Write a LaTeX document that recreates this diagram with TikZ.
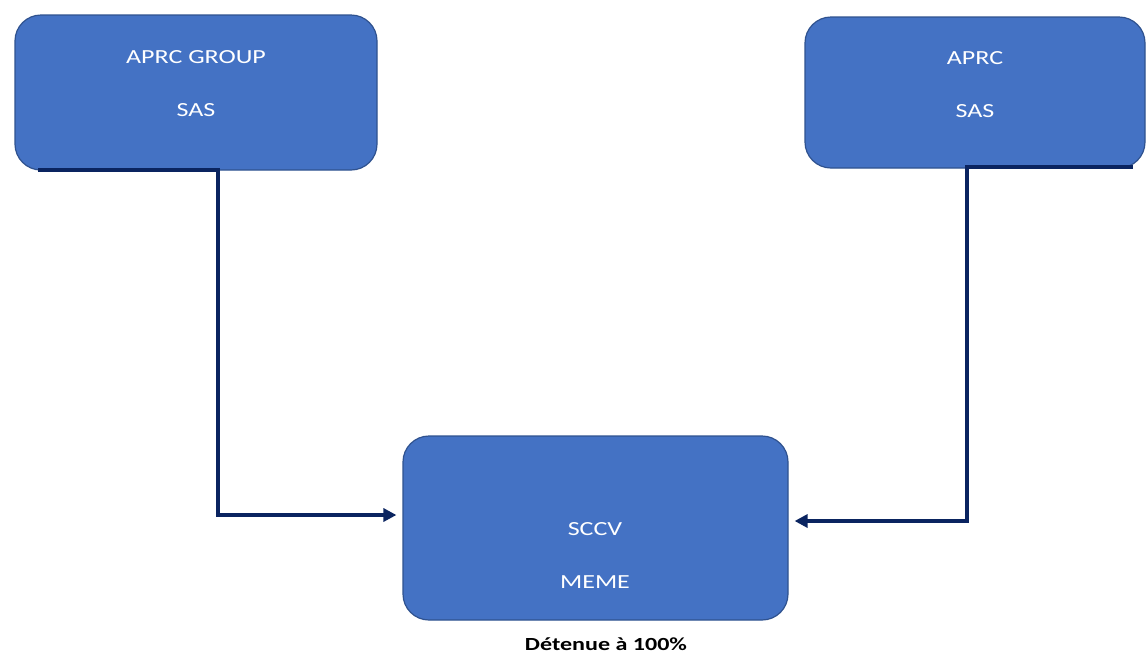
\documentclass[tikz,border=0pt]{standalone}
\usepackage{fontspec}
\setmainfont{Carlito}[FakeStretch=1.3]
\usetikzlibrary{arrows.meta}
\definecolor{boxfill}{HTML}{4472C4}
\definecolor{boxline}{HTML}{2F528F}
\definecolor{navy}{HTML}{0A2460}
\tikzset{
  entity/.style={draw=boxline, line width=1.2pt, fill=boxfill, rounded corners=26pt, inner sep=0pt},
  boxtext/.style={text=white, font=\fontsize{20}{24}\selectfont, anchor=base, inner sep=0pt},
  link/.style={draw=navy, line width=3.5pt, line cap=butt, line join=miter, -{Triangle[length=13pt,width=13pt]}, shorten >=6pt},
}
\begin{document}
\begin{tikzpicture}[x=1pt,y=-1pt]
\useasboundingbox (0,0) rectangle (1147,657);
\fill[white] (0,0) rectangle (1147,657);

\node[entity, minimum width=362pt, minimum height=155pt] (grp) at (196,92.5) {};
\node[entity, minimum width=340pt, minimum height=151pt] (aprc) at (975,92.5) {};
\node[entity, minimum width=385pt, minimum height=184pt] (sccv) at (595.5,528) {};

\node[boxtext] (grp1) at (196,63) {APRC GROUP};
\node[boxtext] (grp2) at (196,116) {SAS};
\node[boxtext] (aprc1) at (975,64.5) {APRC};
\node[boxtext] (aprc2) at (975,117.5) {SAS};
\node[boxtext] (sccv1) at (595,535) {SCCV};
\node[boxtext] (sccv2) at (595,588) {MEME};
\node[anchor=base, inner sep=0pt, font=\bfseries\fontsize{18.5}{22}\selectfont] (note) at (606,650) {Détenue à 100\%};

\coordinate (ls) at (38,170);
\coordinate (lc) at (218,170);
\coordinate (lb) at (218,515);
\coordinate (rs) at (1133,167);
\coordinate (rc) at (967,167);
\coordinate (rb) at (967,521);

\draw[link] (ls) -- (lc) -- (lb) -- (sccv.west |- lb);
\draw[link] (rs) -- (rc) -- (rb) -- (sccv.east |- rb);
\end{tikzpicture}
\end{document}
